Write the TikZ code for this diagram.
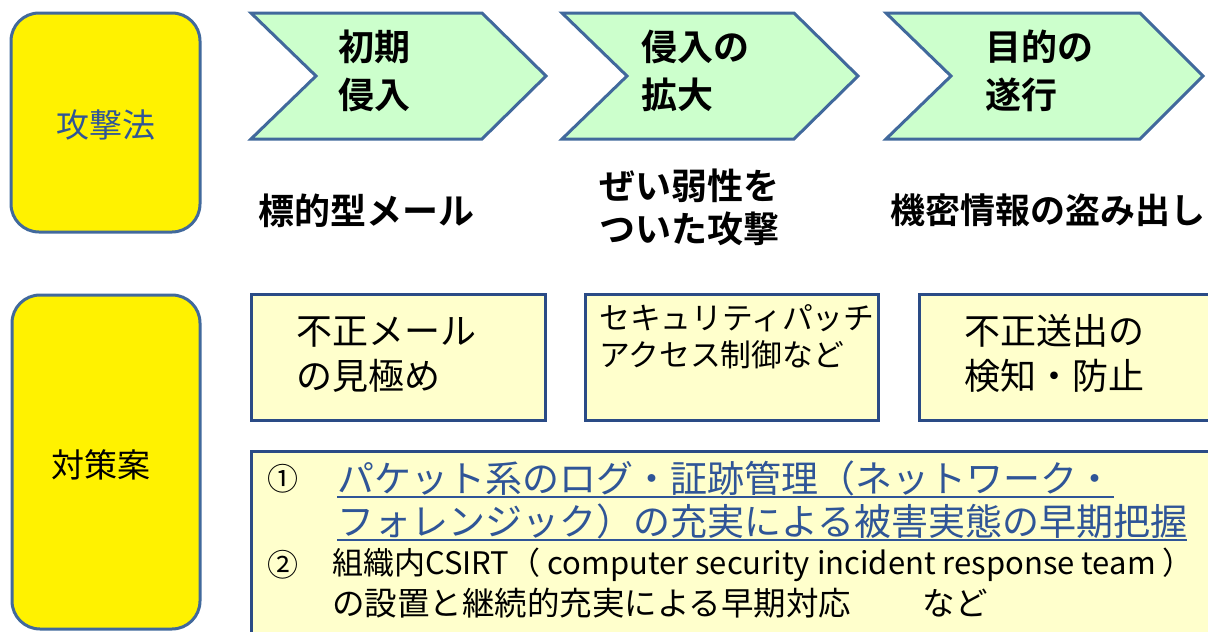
\documentclass[tikz,border=0pt]{standalone}
\usepackage{fontspec}
\setmainfont{Noto Sans CJK JP}[BoldFont={Noto Sans CJK JP Bold}]
\definecolor{chevfill}{HTML}{CCFFCC}
\definecolor{chevline}{HTML}{41699C}
\definecolor{boxline}{HTML}{2A4B86}
\definecolor{paleyel}{HTML}{FFFFCC}
\definecolor{bluetxt}{HTML}{2F5597}
\begin{document}
\begin{tikzpicture}[x=1pt,y=-1pt,
  catbox/.style={draw=chevline,line width=3pt,fill=yellow,rounded corners=28pt},
  chev/.style={draw=chevline,line width=3pt,fill=chevfill,line join=miter},
  measbox/.style={draw=boxline,line width=3pt,fill=paleyel},
  chevtxt/.style={font=\fontsize{36}{48}\selectfont\bfseries,align=left,anchor=west,inner sep=0pt},
  atktxt/.style={font=\fontsize{36}{43}\selectfont\bfseries,align=left,inner sep=0pt},
  boxtxt/.style={font=\fontsize{36}{45}\selectfont,align=left,anchor=west,inner sep=0pt},
  btxt/.style={font=\fontsize{37}{43}\selectfont,anchor=west,inner sep=0pt}]
\useasboundingbox (0,0) rectangle (1208,632);
\fill[white] (0,0) rectangle (1208,632);
% category boxes
\draw[catbox] (11,13) rectangle (200,232);
\node[text=bluetxt,font=\fontsize{33}{40}\selectfont] (atk) at (106,125) {攻撃法};
\draw[catbox] (12,295) rectangle (200,629);
\node[font=\fontsize{33}{40}\selectfont] (def) at (101,465) {対策案};
% chevrons
\draw[chev] (251,13) -- (482,13) -- (546,76) -- (482,139) -- (251,139) -- (316,76) -- cycle;
\draw[chev] (562,13) -- (794,13) -- (858,76) -- (794,139) -- (562,139) -- (627,76) -- cycle;
\draw[chev] (886,13) -- (1140,13) -- (1203,76) -- (1140,139) -- (886,139) -- (951,76) -- cycle;
\node[chevtxt] (c1) at (338,71) {初期\\侵入};
\node[chevtxt] (c2) at (641,71) {侵入の\\拡大};
\node[chevtxt] (c3) at (985,71) {目的の\\遂行};
% attack labels
\node[atktxt] (a1) at (366,211) {標的型メール};
\node[atktxt,anchor=west] (a2) at (599,207) {ぜい弱性を\\ついた攻撃};
\node[atktxt,font=\fontsize{35}{43}\selectfont\bfseries] (a3) at (1048,210) {機密情報の盗み出し};
% measure boxes
\draw[measbox] (251,294) rectangle (545,420);
\draw[measbox] (585,294) rectangle (878,420);
\draw[measbox] (919,294) rectangle (1220,420);
\node[boxtxt] (m1) at (296,355) {不正メール\\の見極め};
\node[boxtxt,font=\fontsize{30.8}{37}\selectfont] (m2) at (599,337) {セキュリティパッチ\\アクセス制御など};
\node[boxtxt] (m3) at (964,353) {不正送出の\\検知・防止};
% bottom box
\draw[measbox] (251,451) rectangle (1230,650);
\node[font=\fontsize{31}{36}\selectfont,inner sep=0pt] (n1) at (283,479) {①};
\node[btxt,text=bluetxt] (l1) at (337,478) {パケット系のログ・証跡管理（ネットワーク・};
\node[btxt,text=bluetxt] (l2) at (337,521) {フォレンジック）の充実による被害実態の早期把握};
\draw[bluetxt,line width=1.5pt] ([yshift=-1pt]l1.south west) -- ([yshift=-1pt]l1.south east);
\draw[bluetxt,line width=1.5pt] ([yshift=-1pt]l2.south west) -- ([yshift=-1pt]l2.south east);
\node[font=\fontsize{31}{36}\selectfont,inner sep=0pt] (n2) at (283,565) {②};
\node[btxt,font=\fontsize{31}{36}\selectfont] (l3) at (332,565) {組織内CSIRT（ computer security incident response team ）};
\node[btxt,font=\fontsize{32.5}{36}\selectfont] (l4) at (332,603) {の設置と継続的充実による早期対応\hspace{2.2em}など};
\end{tikzpicture}
\end{document}
